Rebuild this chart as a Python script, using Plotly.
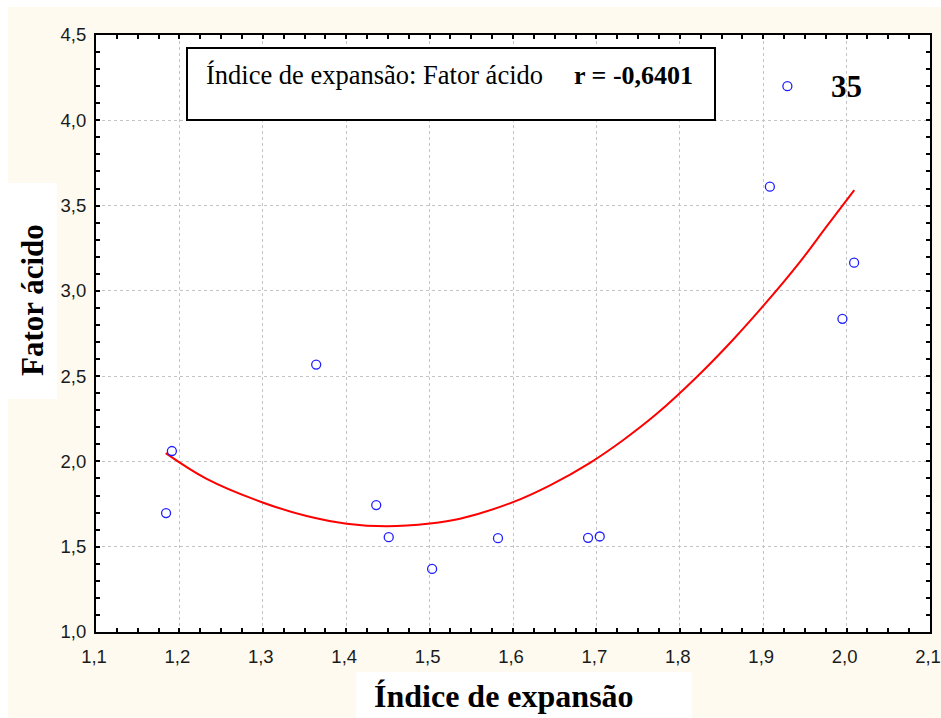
import plotly.graph_objects as go

# Observed points
x_pts = [1.184, 1.191, 1.364, 1.436, 1.451, 1.503, 1.582, 1.690, 1.704, 1.908, 1.929, 1.995, 2.009]
y_pts = [1.697, 2.061, 2.568, 1.744, 1.556, 1.370, 1.550, 1.552, 1.560, 3.611, 4.200, 2.836, 3.165]

# Fitted curve
x_fit = [1.1836, 1.2327, 1.3006, 1.3526, 1.4006, 1.4486, 1.5005, 1.5365, 1.5992, 1.6444,
         1.6923, 1.7323, 1.7723, 1.8203, 1.8641, 1.9042, 1.9441, 1.9761, 2.0092]
y_fit = [2.049, 1.898, 1.758, 1.680, 1.635, 1.620, 1.636, 1.664, 1.760, 1.860,
         1.992, 2.126, 2.279, 2.495, 2.715, 2.935, 3.170, 3.378, 3.590]

x_ticks = [1.1, 1.2, 1.3, 1.4, 1.5, 1.6, 1.7, 1.8, 1.9, 2.0, 2.1]
y_ticks = [1.0, 1.5, 2.0, 2.5, 3.0, 3.5, 4.0, 4.5]

title_text = "Índice de expansão: Fator ácido"
r_text = "r = -0,6401"
case_label = "35"
x_title = "Índice de expansão"
y_title = "Fator ácido"

# figure fills the whole window (body margin removed in post_script)
W, H = 941, 718
L, R, T, B = 96, 11, 35, 86
PW, PH = W - L - R, H - T - B

def px(v):  # window pixel x -> paper
    return (v - L) / PW

def py(v):  # window pixel y -> paper
    return (H - B - v) / PH

cream = "#FEFAF0"

fig = go.Figure()
fig.add_trace(go.Scatter(x=x_fit, y=y_fit, mode="lines",
                         line=dict(color="#FF0000", width=2, shape="spline", smoothing=1.0),
                         hoverinfo="skip", showlegend=False))
fig.add_trace(go.Scatter(x=x_pts, y=y_pts, mode="markers",
                         marker=dict(symbol="circle-open", size=9, color="#1F1FFF",
                                     line=dict(width=1.3, color="#1F1FFF")),
                         showlegend=False))

axis_common = dict(
    showline=True, linecolor="black", linewidth=2, mirror="allticks",
    ticks="inside", ticklen=4, tickwidth=1.5, tickcolor="black",
    showgrid=True, gridcolor="#c4c4c4", gridwidth=1, griddash="dot",
    zeroline=False, tickformat=".1f", automargin=False, ticklabeloverflow="allow",
    tickfont=dict(family="Liberation Sans, Arial", size=18.5, color="#1a1a1a"),
)

fig.update_xaxes(range=[1.1, 2.1], tickvals=x_ticks, ticklabelstandoff=7, ticklabelshift=-2,
                 minor=dict(dtick=0.025, tick0=1.1, ticks="inside", ticklen=4, tickwidth=1.5,
                            tickcolor="black", showgrid=False),
                 **axis_common)
fig.update_yaxes(range=[1.0, 4.5], tickvals=y_ticks, ticklabelstandoff=4,
                 minor=dict(dtick=0.1, tick0=1.0, ticks="inside", ticklen=4, tickwidth=1.5,
                            tickcolor="black", showgrid=False),
                 **axis_common)

shapes = [
    # white border strips at top and left
    dict(type="rect", xref="paper", yref="paper", x0=px(-2), x1=px(W + 2), y0=py(7), y1=py(-2),
         fillcolor="white", line=dict(width=0), layer="below"),
    dict(type="rect", xref="paper", yref="paper", x0=px(-2), x1=px(8), y0=py(H + 2), y1=py(-2),
         fillcolor="white", line=dict(width=0), layer="below"),
    # white boxes behind axis titles
    dict(type="rect", xref="paper", yref="paper", x0=px(6), x1=px(57), y0=py(183), y1=py(399),
         fillcolor="white", line=dict(width=0), layer="below"),
    dict(type="rect", xref="paper", yref="paper", x0=px(356), x1=px(692), y0=py(672), y1=py(722),
         fillcolor="white", line=dict(width=0), layer="below"),
    # text box
    dict(type="rect", xref="paper", yref="paper", x0=px(187), x1=px(715), y0=py(48), y1=py(120),
         fillcolor="white", line=dict(width=2, color="black"), layer="above"),
]

serif = "Liberation Serif, Times New Roman"
annotations = [
    dict(text=title_text, xref="paper", yref="paper", x=px(204), y=py(75), xanchor="left", yanchor="middle",
         showarrow=False, font=dict(family=serif, size=26.5, color="black")),
    dict(text="<b>" + r_text + "</b>", xref="paper", yref="paper", x=px(572), y=py(75), xanchor="left",
         yanchor="middle", showarrow=False, font=dict(family=serif, size=26, color="black")),
    dict(text="<b>" + case_label + "</b>", xref="paper", yref="paper", x=px(846), y=py(86), xanchor="center",
         yanchor="middle", showarrow=False, font=dict(family=serif, size=31, color="black")),
    dict(text="<b>" + x_title + "</b>", xref="paper", yref="paper", x=px(504), y=py(696), xanchor="center",
         yanchor="middle", showarrow=False, font=dict(family=serif, size=32, color="black")),
    dict(text="<b>" + y_title + "</b>", xref="paper", yref="paper", x=px(32), y=py(300), xanchor="center",
         yanchor="middle", textangle=-90, showarrow=False, font=dict(family=serif, size=31, color="black")),
]

fig.update_layout(
    width=W, height=H,
    margin=dict(l=L, r=R, t=T, b=B, autoexpand=False),
    paper_bgcolor=cream, plot_bgcolor="white",
    separators=",.",
    shapes=shapes, annotations=annotations,
    showlegend=False,
)

fig.write_html(
    "out.html",
    config={"displayModeBar": False},
    post_script=("document.body.style.margin='0'; document.body.style.padding='0';"
                 "document.documentElement.style.overflow='hidden'; document.body.style.overflow='hidden';"),
)
